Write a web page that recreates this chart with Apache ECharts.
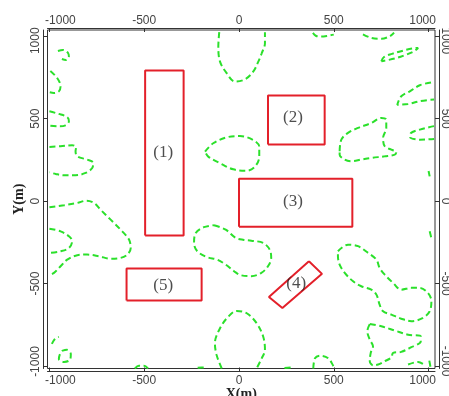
<!DOCTYPE html>
<html><head><meta charset="utf-8">
<script src="https://cdn.jsdelivr.net/npm/echarts@6/dist/echarts.min.js"></script>
<style>html,body{margin:0;padding:0;background:#fff}#c{width:449px;height:396px}</style>
</head><body><div id="c"></div>
<script>
// ---- axis ticks ----
const tickValues = [-1000, -500, 0, 500, 1000];
const xRange = [-1010, 1034];
const yRange = [-1015, 1038];

// ---- buildings (red outlines), data units (m) ----
const rect1 = [[-495,-208],[-292,-208],[-292,792],[-495,792],[-495,-208]];
const rect2 = [[153,343],[452,343],[452,640],[153,640],[153,343]];
const rect3 = [[0,-155],[598,-155],[598,136],[0,136],[0,-155]];
const rect4 = [[369,-365],[438,-441],[229,-648],[158,-581],[369,-365]];
const rect5 = [[-593,-603],[-197,-603],[-197,-409],[-593,-409],[-593,-603]];
const rectLabels = [[-400,295,'(1)'],[285,505,'(2)'],[285,-3,'(3)'],[302,-497,'(4)'],[-400,-510,'(5)']];

// ---- dashed green contours ----
const c1 = [[-955,911],[-929,917],[-902,899],[-897,874],[-913,856],[-934,862]];
const c2 = [[-995,790],[-959,747],[-941,697],[-950,666],[-976,656],[-998,660]];
const c3 = [[-1000,545],[-950,529],[-906,509],[-897,485],[-915,460],[-950,454],[-1000,458]];
const c4 = [[-1000,329],[-941,333],[-880,339],[-859,327],[-862,303],[-853,272],[-801,252],[-769,232],[-774,201],[-809,171],[-862,157],[-923,157],[-967,165],[-1000,175]];
const c5 = [[-1000,-37],[-923,-25],[-853,-11],[-804,3],[-765,-11],[-730,-52],[-677,-112],[-616,-183],[-580,-233],[-571,-284],[-589,-324],[-624,-344],[-677,-349],[-739,-334],[-801,-324],[-853,-328],[-906,-355],[-941,-395],[-976,-435],[-1000,-449]];
const c6 = [[-1000,-167],[-941,-183],[-897,-213],[-880,-243],[-897,-284],[-941,-304],[-1000,-314]];
const c7a = [[-987,-866],[-971,-836],[-950,-823]];
const c7b = [[-934,-908],[-908,-902],[-887,-927],[-892,-963],[-923,-975],[-950,-957],[-944,-927],[-934,-908]];
const c8a = [[-549,-1015],[-528,-999],[-501,-999],[-480,-1015]];
const c8b = [[-218,-1010],[-175,-1008]];
const c9 = [[-91,-1015],[-118,-933],[-127,-862],[-100,-771],[-56,-700],[-12,-666],[41,-680],[93,-740],[128,-822],[137,-902],[120,-953],[93,-1015]];
const c10 = [[240,-1012],[275,-1008]];
const c11 = [[392,-1015],[401,-953],[427,-937],[471,-953],[498,-1000],[505,-1015]];
const c12 = [[690,-745],[751,-759],[822,-785],[892,-810],[959,-819],[959,-850],[909,-886],[856,-914],[813,-920],[804,-947],[769,-971],[734,-991],[707,-995],[690,-971],[695,-920],[707,-880],[690,-840],[677,-789],[690,-745]];
const c12b = [[892,-991],[945,-975],[975,-990]];
const c12c = [[1004,-967],[1010,-1005]];
const c13 = [[522,-304],[575,-264],[628,-273],[681,-314],[725,-355],[742,-405],[769,-446],[813,-496],[856,-537],[909,-526],[954,-526],[997,-557],[1015,-607],[1006,-668],[971,-708],[909,-728],[856,-713],[804,-688],[760,-668],[742,-628],[725,-567],[698,-537],[645,-516],[602,-486],[558,-435],[531,-385],[522,-334],[522,-304]];
const c14 = [[-132,-146],[-70,-173],[-17,-223],[26,-235],[65,-240],[127,-253],[162,-294],[170,-344],[153,-395],[118,-435],[65,-455],[9,-449],[-26,-425],[-70,-385],[-115,-355],[-167,-340],[-220,-304],[-237,-253],[-228,-193],[-185,-158],[-132,-146]];
const c15 = [[-179,300],[-136,351],[-65,387],[5,395],[75,371],[107,330],[107,270],[84,209],[41,185],[-30,193],[-100,230],[-162,270],[-179,300]];
const c16 = [[-104,1025],[-109,937],[-100,846],[-65,776],[-21,725],[32,739],[75,785],[102,846],[120,897],[137,958],[137,1025]];
const c17 = [[390,1020],[405,1003],[430,998],[470,1003],[500,1010]];
const c18 = [[654,1012],[698,990],[751,985],[795,1000],[818,1022]];
const c19 = [[751,848],[765,874],[807,893],[860,911],[913,926],[945,929],[923,909],[874,885],[822,865],[751,848]];
const c20 = [[1013,720],[954,703],[901,666],[856,636],[835,585],[892,589],[954,606],[1029,617]];
const c21 = [[1029,455],[954,434],[908,414],[902,389],[954,373],[1029,377]];
const c22 = [[531,303],[540,373],[575,414],[628,444],[698,474],[751,505],[777,494],[777,444],[760,383],[769,333],[804,312],[830,298],[822,282],[769,272],[698,262],[645,252],[593,242],[558,252],[531,282],[531,303]];
const c23a = [[1000,183],[1006,150]];
const c23b = [[1006,-183],[1015,-225]];

const contours = [c1,c2,c3,c4,c5,c6,c7a,c7b,c8a,c8b,c9,c10,c11,c12,c12b,c12c,c13,c14,c15,c16,c17,c18,c19,c20,c21,c22,c23a,c23b];
const rects = [rect1,rect2,rect3,rect4,rect5];

const GREEN = '#2be02b';
const RED = '#e3202a';
const FRAME = '#333';

const FONT = 'Liberation Sans, Arial, sans-serif';
// padding [top,right,bottom,left] for the end labels (nudges them inward like the original)
function tickLabel(margin, rot, padLo, padHi){
  const base = {fontFamily:FONT, fontSize:12, color:'#444'};
  return {show:true, margin:margin, rotate:rot, customValues:tickValues,
    fontFamily:FONT, fontSize:12, color:'#444',
    formatter: v => v === tickValues[0] ? '{lo|' + v + '}' : (v === tickValues[tickValues.length-1] ? '{hi|' + v + '}' : '{n|' + v + '}'),
    rich:{ n:Object.assign({}, base), lo:Object.assign({padding:padLo}, base), hi:Object.assign({padding:padHi}, base) }
  };
}

function xAx(pos, offset, margin){
  return {type:'value', position:pos, min:xRange[0], max:xRange[1], offset:offset,
    axisLine:{show:true, onZero:false, lineStyle:{color:FRAME, width:1}},
    axisTick:{show:true, inside:true, length:4, customValues:tickValues, lineStyle:{color:FRAME}},
    axisLabel:tickLabel(margin, 0, [0,0,0,22], [0,12,0,0]),
    splitLine:{show:false}};
}
function yAx(pos, offset, rot, margin, padLo, padHi){
  return {type:'value', position:pos, min:yRange[0], max:yRange[1], offset:offset,
    axisLine:{show:true, onZero:false, lineStyle:{color:FRAME, width:1}},
    axisTick:{show:true, inside:true, length:4, customValues:tickValues, lineStyle:{color:FRAME}},
    axisLabel:tickLabel(margin, rot, padLo, padHi),
    splitLine:{show:false}};
}

const xBottom = xAx('bottom', 3, 3);
xBottom.name = 'X(m)'; xBottom.nameLocation='middle'; xBottom.nameGap=16; xBottom.nameMoveOverlap=false;
xBottom.nameTextStyle = {fontFamily:'Liberation Serif, Times New Roman, serif', fontSize:14, fontWeight:'bold', color:'#222'};
const xTop = xAx('top', 2, 1);
// left: text reads upward -> left padding pushes up, right padding pushes down
const yLeft = yAx('left', 4, 90, 2, [0,0,0,9], [0,9,0,0]);
yLeft.name = 'Y(m)'; yLeft.nameLocation='middle'; yLeft.nameGap=17.5; yLeft.nameRotate=90; yLeft.nameMoveOverlap=false;
yLeft.nameTextStyle = {fontFamily:'Liberation Serif, Times New Roman, serif', fontSize:14, fontWeight:'bold', color:'#222'};
// right: text reads downward -> left padding pushes down, right padding pushes up
const yRight = yAx('right', 4, -90, 0, [0,10,0,0], [0,0,0,9]);

const series = [];
contours.forEach(c => series.push({
  type:'line', xAxisIndex:0, yAxisIndex:0, data:c, smooth:0.35, showSymbol:false, silent:true,
  lineStyle:{color:GREEN, width:2, type:[6,3.5]}, z:2
}));
rects.forEach(r => series.push({
  type:'line', xAxisIndex:0, yAxisIndex:0, data:r, smooth:false, showSymbol:false, silent:true,
  lineStyle:{color:RED, width:2}, z:3
}));
series.push({
  type:'scatter', xAxisIndex:0, yAxisIndex:0, data:rectLabels, symbolSize:0, silent:true,
  label:{show:true, position:'inside', formatter:p=>p.data[2],
    fontFamily:'Liberation Serif, Times New Roman, serif', fontSize:17, color:'#222'}, z:4
});

const chart = echarts.init(document.getElementById('c'), null, {renderer:'canvas'});
chart.setOption({
  animation:false,
  backgroundColor:'#fff',
  grid:{left:47.5, top:30, right:14, bottom:27.5, show:true, borderColor:FRAME, borderWidth:1, backgroundColor:'transparent', containLabel:false, outerBoundsMode:'none'},
  xAxis:[xBottom, xTop],
  yAxis:[yLeft, yRight],
  series:series
});
</script></body></html>
